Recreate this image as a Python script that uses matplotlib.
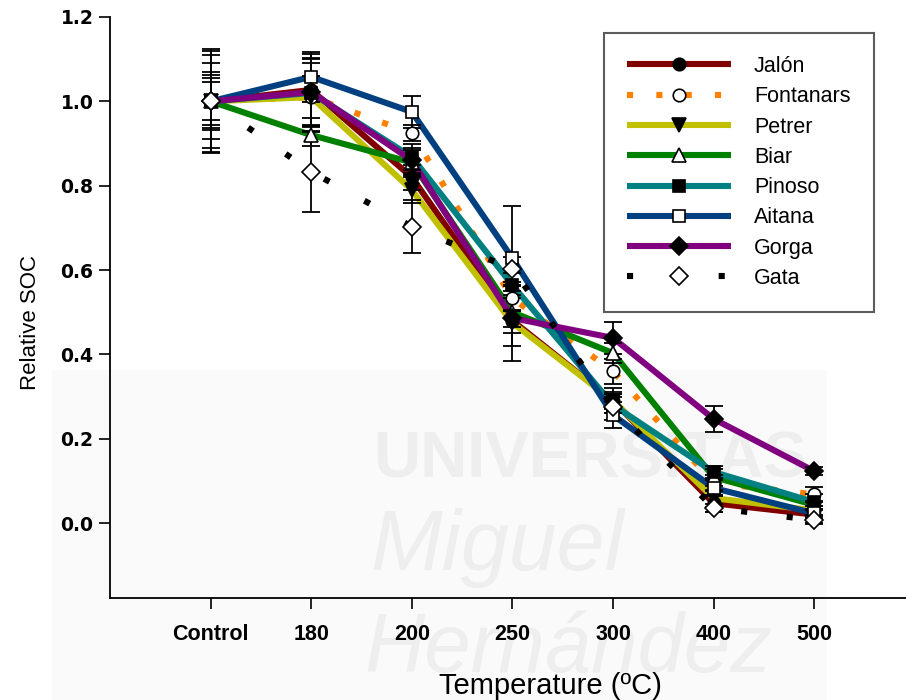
import matplotlib
matplotlib.use("Agg")
import matplotlib.pyplot as plt
from matplotlib.lines import Line2D
from matplotlib.patches import Rectangle
import numpy as np

# Heating temperature steps (x categories)
temperatures = ["Control", "180", "200", "250", "300", "400", "500"]

# Relative SOC per site
jalon     = [1.00, 1.027, 0.820, 0.480, 0.290, 0.047, 0.020]
fontanars = [1.00, 1.010, 0.925, 0.533, 0.360, 0.095, 0.068]
petrer    = [1.00, 1.010, 0.790, 0.475, 0.290, 0.059, 0.030]
biar      = [1.00, 0.920, 0.855, 0.500, 0.403, 0.109, 0.043]
pinoso    = [1.00, 1.020, 0.868, 0.564, 0.280, 0.121, 0.050]
aitana    = [1.00, 1.058, 0.975, 0.628, 0.256, 0.083, 0.023]
gorga     = [1.00, 1.022, 0.860, 0.486, 0.439, 0.247, 0.123]
gata      = [1.00, 0.833, 0.703, 0.602, 0.275, 0.036, 0.007]

# Standard errors per site
jalon_err     = [0.123, 0.085, 0.030, 0.060, 0.030, 0.020, 0.020]
fontanars_err = [0.063, 0.050, 0.020, 0.030, 0.030, 0.020, 0.017]
petrer_err    = [0.090, 0.080, 0.030, 0.090, 0.020, 0.020, 0.010]
biar_err      = [0.110, 0.025, 0.030, 0.050, 0.023, 0.020, 0.010]
pinoso_err    = [0.045, 0.080, 0.030, 0.030, 0.020, 0.015, 0.020]
aitana_err    = [0.055, 0.060, 0.038, 0.124, 0.030, 0.020, 0.010]
gorga_err     = [0.069, 0.080, 0.030, 0.020, 0.038, 0.030, 0.010]
gata_err      = [0.120, 0.095, 0.063, 0.030, 0.030, 0.010, 0.010]

site_names = ["Jalón", "Fontanars", "Petrer", "Biar", "Pinoso", "Aitana", "Gorga", "Gata"]
site_values = [jalon, fontanars, petrer, biar, pinoso, aitana, gorga, gata]
site_errors = [jalon_err, fontanars_err, petrer_err, biar_err, pinoso_err,
               aitana_err, gorga_err, gata_err]

# Styles: colour, line style, marker, marker face, marker size
LW = 4.4
styles = [
    dict(color="#800000", ls="-",            marker="o", mfc="black", ms=9),
    dict(color="#FF8000", ls=(0, (1, 3.8)),  marker="o", mfc="white", ms=9),
    dict(color="#C0C000", ls="-",            marker="v", mfc="black", ms=10),
    dict(color="#008000", ls="-",            marker="^", mfc="white", ms=10),
    dict(color="#008080", ls="-",            marker="s", mfc="black", ms=9),
    dict(color="#004080", ls="-",            marker="s", mfc="white", ms=9),
    dict(color="#800080", ls="-",            marker="D", mfc="black", ms=9),
    dict(color="black",   ls=(0, (1, 6.5)),  marker="D", mfc="white", ms=9),
]

fig = plt.figure(figsize=(9.06, 7.0), dpi=100)
W, H = 906.0, 700.0

# faint university watermark behind the plot
fig.patches.append(Rectangle((52 / W, 0), (827 - 52) / W, (700 - 370) / H,
                             transform=fig.transFigure, facecolor="#fafafa",
                             edgecolor="none", zorder=-3))
wm = dict(family=["Liberation Sans"], color="#eeeeee", ha="left",
          va="baseline", zorder=-2)
fig.text(373 / W, 1 - 477 / H, "UNIVERSITAS", fontsize=47, fontweight="bold", **wm)
fig.text(370 / W, 1 - 570 / H, "Miguel", fontsize=62, style="italic", **wm)
fig.text(364 / W, 1 - 672 / H, "Hernández", fontsize=60, style="italic", **wm)

ax = fig.add_axes([110 / W, 102 / H, 796 / W, 581 / H])
ax.patch.set_alpha(0)

x = np.arange(len(temperatures))
handles = []
for i, (vals, errs, st) in enumerate(zip(site_values, site_errors, styles)):
    ax.plot(x, vals, color=st["color"], lw=LW, ls=st["ls"],
            solid_capstyle="butt", dash_capstyle="butt", zorder=2 + i * 0.01)
    ax.errorbar(x, vals, yerr=errs, fmt="none", ecolor="black",
                elinewidth=1.3, capsize=6.5, capthick=1.3, zorder=3 + i * 0.01)
    ax.plot(x, vals, ls="none", marker=st["marker"], mfc=st["mfc"],
            mec="black", mew=1.2, ms=st["ms"], zorder=4 + i * 0.01)
    handles.append(Line2D([], [], color=st["color"], lw=LW, ls=st["ls"],
                          solid_capstyle="butt", dash_capstyle="butt",
                          marker=st["marker"], mfc=st["mfc"], mec="black",
                          mew=1.2, ms=st["ms"]))

ax.set_xlim(-1, -1 + 796 / 100.6)
ax.set_ylim(1.2 - 581 / 421.7, 1.2)

ax.spines["top"].set_visible(False)
ax.spines["right"].set_visible(False)
for s in ("left", "bottom"):
    ax.spines[s].set_linewidth(1.3)

ax.set_xticks(x)
ax.set_xticklabels(temperatures)
yt = [0.0, 0.2, 0.4, 0.6, 0.8, 1.0, 1.2]
ax.set_yticks(yt)
ax.set_yticklabels([f"{v:.1f}" for v in yt])
ax.tick_params(axis="x", direction="out", length=8, width=1.2, pad=11)
ax.tick_params(axis="y", direction="out", length=8, width=1.2, pad=4)
for lbl in ax.get_xticklabels():
    lbl.set_family(["Liberation Sans"])
    lbl.set_fontweight("bold")
    lbl.set_fontsize(15.5)
for lbl in ax.get_yticklabels():
    lbl.set_family(["DejaVu Sans"])
    lbl.set_fontweight("bold")
    lbl.set_fontsize(13.5)

ax.set_ylabel("Relative SOC", fontsize=16, family=["Liberation Sans"])
ax.yaxis.set_label_coords((41 - 110) / 796, 0.475)
ax.set_xlabel("Temperature (ºC)", fontsize=21, family=["Liberation Sans"])
ax.xaxis.set_label_coords((550 - 110) / 796, (598 - 672) / 581)

leg = ax.legend(handles, site_names, loc="upper left",
                bbox_to_anchor=(604 / W, 1 - 33 / H), bbox_transform=fig.transFigure,
                frameon=True, fancybox=False, numpoints=1,
                handlelength=4.85, handletextpad=1.05,
                labelspacing=0.43, borderpad=1.07, borderaxespad=0,
                prop={"family": "Liberation Sans", "size": 15.5})
leg.get_frame().set_edgecolor("#333333")
leg.get_frame().set_linewidth(1.5)
leg.set_zorder(10)

fig.savefig("out.png", dpi=100)
